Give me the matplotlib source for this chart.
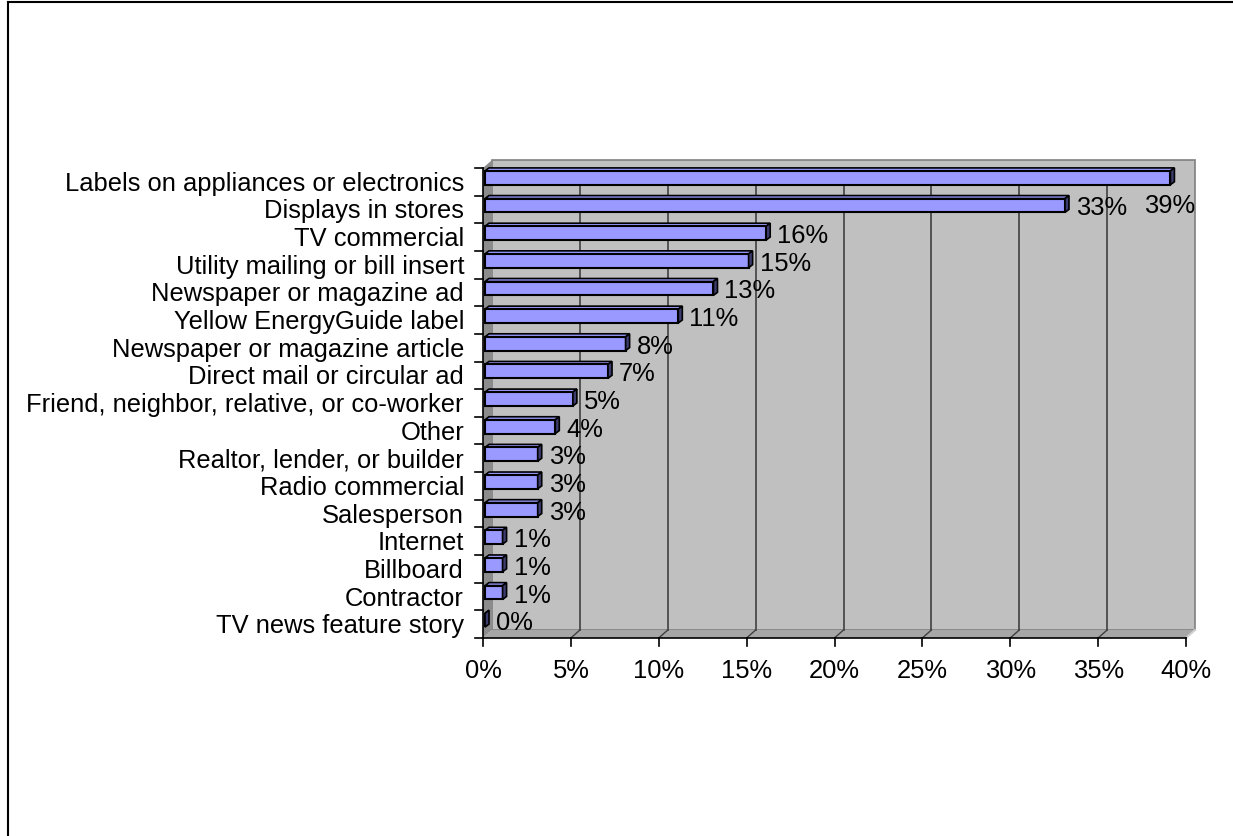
import matplotlib.pyplot as plt
from matplotlib.patches import Polygon

plt.rcParams['font.family'] = ['Liberation Sans', 'DejaVu Sans']

categories = ['Labels on appliances or electronics', 'Displays in stores',
              'TV commercial', 'Utility mailing or bill insert',
              'Newspaper or magazine ad', 'Yellow EnergyGuide label',
              'Newspaper or magazine article', 'Direct mail or circular ad',
              'Friend, neighbor, relative, or co-worker', 'Other',
              'Realtor, lender, or builder', 'Radio commercial', 'Salesperson',
              'Internet', 'Billboard', 'Contractor', 'TV news feature story']
values = [39, 33, 16, 15, 13, 11, 8, 7, 5, 4, 3, 3, 3, 1, 1, 1, 0]
xticks = [0, 5, 10, 15, 20, 25, 30, 35, 40]

W, H = 1233, 837
fs = 18.4
fig = plt.figure(figsize=(W / 100, H / 100), dpi=100)
# front plane of the 3d box, in pixels
px_l, px_r, px_t, px_b = 483, 1186, 169, 639
ax = fig.add_axes([px_l / W, 1 - px_b / H, (px_r - px_l) / W, (px_b - px_t) / H])
n = len(categories)
xmax = 40
ax.set_xlim(0, xmax)
ax.set_ylim(n - 0.5, -0.5)
ax.axis('off')

sx = (px_r - px_l) / xmax          # pixels per percent
sy = (px_b - px_t) / n             # pixels per row
DX, DY = 9 / sx, 8 / sy            # wall depth
top, bot = -0.5, n - 0.5

def poly(pts, fc, ec='none', lw=0, z=1):
    ax.add_patch(Polygon(pts, closed=True, facecolor=fc, edgecolor=ec,
                         linewidth=lw, zorder=z, clip_on=False))

# back wall, side wall, floor
poly([(DX, top - DY), (xmax + DX, top - DY), (xmax + DX, bot - DY), (DX, bot - DY)],
     '#c0c0c0', '#808080', 1.2)
poly([(0, top), (DX, top - DY), (DX, bot - DY), (0, bot)], '#8c8c8c')
poly([(0, bot), (DX, bot - DY), (xmax + DX, bot - DY), (xmax, bot)], '#a6a6a6')
ax.plot([xmax, xmax + DX], [bot, bot - DY], color='#d0d0d0', lw=1.5, clip_on=False, zorder=2)
for t in xticks[1:-1]:
    ax.plot([t + DX, t + DX], [top - DY, bot - DY], color='#404040', lw=1.2, zorder=2)
    ax.plot([t, t + DX], [bot, bot - DY], color='#404040', lw=1.0, zorder=2, clip_on=False)

# axes lines and ticks
ax.plot([0, xmax], [bot, bot], color='black', lw=1.2, clip_on=False, zorder=3)
ax.plot([0, 0], [top, bot], color='black', lw=1.2, clip_on=False, zorder=3)
tl = 8
for t in xticks:
    ax.plot([t, t], [bot, bot + tl / sy], color='black', lw=1.2, clip_on=False, zorder=3)
    ax.text(t, bot + 20 / sy, f'{t}%', ha='center', va='top', fontsize=fs)
for i in range(n + 1):
    ax.plot([0, -tl / sx], [i - 0.5, i - 0.5], color='black', lw=1.2, clip_on=False, zorder=3)
for i, c in enumerate(categories):
    ax.text(-19 / sx, i + 1 / sy, c, ha='right', va='center', fontsize=fs)

# bars, set halfway into the box
bx, by = 2 / sx, -4 / sy
bh = 0.5
ddx, ddy = 4 / sx, 3 / sy
for i, v in enumerate(values):
    y0 = i + by - bh / 2
    y1 = i + by + bh / 2
    x0, x1 = bx, bx + v
    ax.barh(i + by, v, height=bh, left=bx, color='#9999ff', edgecolor='black',
            linewidth=1.5, zorder=5)
    poly([(x0, y0), (x0 + ddx, y0 - ddy), (x1 + ddx, y0 - ddy), (x1, y0)],
         '#9999ff', 'black', 1.2, 4)
    poly([(x1, y0), (x1 + ddx, y0 - ddy), (x1 + ddx, y1 - ddy), (x1, y1)],
         '#3d3d70', 'black', 1.2, 6)
    if i == 0:
        ax.text(x1 - 1.5, i + 0.85, f'{v}%', ha='left', va='center', fontsize=fs, zorder=7)
    else:
        ax.text(x1 + 11 / sx, i + by + 2 / sy, f'{v}%', ha='left', va='center',
                fontsize=fs, zorder=7)

# chart border
fig.add_artist(plt.Line2D([8 / W, 8 / W], [0, 1 - 3 / H], color='black', lw=1.5))
fig.add_artist(plt.Line2D([8 / W, 1], [1 - 3 / H, 1 - 3 / H], color='black', lw=1.5))

fig.savefig('out.png', dpi=100)
